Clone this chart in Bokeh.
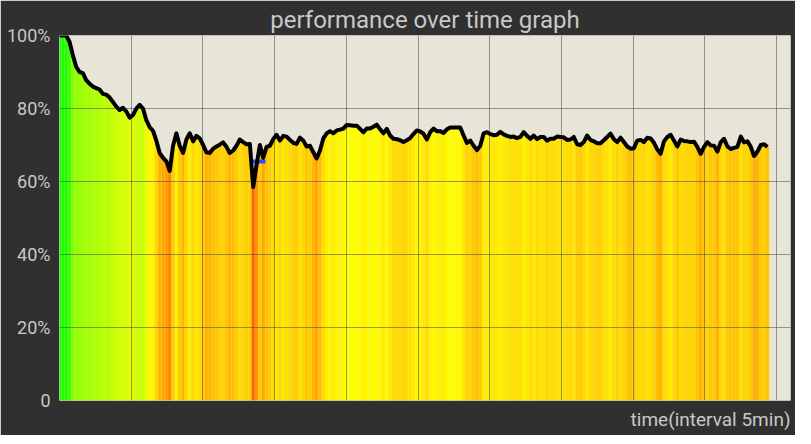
import colorsys
from bokeh.plotting import figure
from bokeh.models import ColumnDataSource, FixedTicker, SingleIntervalTicker, Title, LinearColorMapper
from bokeh.transform import transform
from bokeh.embed import file_html
from bokeh.resources import INLINE

# performance (%) per 5-minute interval
perf = [
    100.0, 100.0, 100.0, 98.3, 94.6, 91.4, 90.0, 89.7, 87.8, 86.8,
    86.0, 85.6, 85.2, 84.0, 83.8, 83.0, 81.8, 80.5, 79.6, 80.2,
    79.2, 77.5, 78.2, 80.0, 81.0, 80.0, 76.8, 74.9, 73.9, 71.2,
    67.8, 66.5, 65.5, 62.9, 69.8, 73.2, 69.8, 67.8, 71.5, 73.2,
    71.0, 72.5, 71.8, 70.0, 68.0, 67.8, 69.0, 69.6, 70.1, 70.7,
    69.5, 67.8, 68.5, 69.8, 71.5, 70.8, 70.2, 70.3, 58.5, 64.5,
    70.0, 66.5, 69.5, 69.8, 71.6, 72.8, 71.2, 72.5, 72.3, 71.4,
    70.6, 70.3, 72.0, 71.2, 69.6, 69.8, 68.0, 66.3, 68.5, 71.8,
    73.2, 73.8, 73.2, 74.0, 74.2, 74.5, 75.5, 75.4, 75.3, 75.3,
    74.4, 73.5, 74.5, 74.5, 75.0, 75.6, 74.3, 73.2, 74.4, 72.6,
    71.7, 71.6, 71.3, 70.8, 71.3, 71.9, 73.0, 74.0, 73.7, 73.1,
    71.5, 73.5, 74.5, 73.8, 73.8, 73.3, 74.3, 74.8, 74.8, 74.8,
    74.8, 72.6, 70.6, 71.2, 69.8, 68.6, 69.8, 73.2, 73.5, 73.0,
    72.7, 72.8, 73.6, 72.9, 72.5, 72.2, 72.3, 71.9, 72.2, 73.5,
    72.5, 71.7, 72.6, 71.6, 72.2, 72.2, 71.2, 71.7, 71.7, 72.3,
    72.2, 72.1, 71.4, 71.5, 72.2, 70.2, 70.0, 70.8, 72.6, 71.4,
    71.0, 70.5, 70.5, 71.3, 72.2, 73.1, 71.6, 70.8, 72.0, 70.8,
    69.6, 69.0, 69.1, 71.2, 71.4, 70.8, 72.0, 71.8, 70.6, 68.8,
    67.6, 71.0, 72.2, 72.8, 71.2, 69.6, 71.5, 71.1, 71.0, 70.8,
    70.9, 69.5, 67.6, 69.5, 70.8, 69.9, 69.8, 68.2, 70.8, 71.7,
    69.6, 68.9, 69.2, 69.5, 72.3, 70.7, 71.0, 69.5, 67.0, 68.2,
    70.0, 70.2, 69.5,
]

y_ticks = [0, 20, 40, 60, 80, 100]
y_tick_labels = ["0", "20%", "40%", "60%", "80%", "100%"]

# short blue marker segment (interval index, %)
marker_x = [57.5, 61.7]
marker_y = [65.5, 65.5]

title_text = "performance over time graph"
x_label = "time(interval 5min)"

n = len(perf)
idx = list(range(n))
span = n - 1
x_end = span * 731.0 / 708.0
grid_step = span * 71.7 / 708.0

# colour scale: red/orange (low) -> yellow -> green (100%)
hue_anchors = [(56, 20), (58, 23), (60, 27), (64, 34), (67, 41), (70, 48),
               (72, 53), (74, 58), (75.5, 60), (77, 65), (80, 71), (86, 80),
               (90, 84), (95, 90), (100, 112)]

def hue_at(v):
    for (v0, h0), (v1, h1) in zip(hue_anchors[:-1], hue_anchors[1:]):
        if v <= v1:
            t = (v - v0) / (v1 - v0)
            return h0 + t * (h1 - h0)
    return hue_anchors[-1][1]

palette = []
for k in range(256):
    v = 56 + 44 * k / 255
    r, g, b = colorsys.hsv_to_rgb(hue_at(v) / 360.0, 1.0, 1.0)
    palette.append("#%02x%02x%02x" % (int(r * 255), int(g * 255), int(b * 255)))
mapper = LinearColorMapper(palette=palette, low=56, high=100)

src = ColumnDataSource(data=dict(x=idx, perf=perf))

p = figure(frame_width=731, frame_height=365,
           x_range=(0, x_end), y_range=(0, 100),
           output_backend="svg", toolbar_location=None,
           background_fill_color="#e7e5d8", border_fill_color="#303030",
           min_border_left=59, min_border_right=5,
           min_border_top=35, min_border_bottom=28,
           outline_line_color=None)

p.title.text = title_text
p.title.align = "center"
p.title.text_font = "Roboto"
p.title.text_font_size = "24px"
p.title.text_font_style = "normal"
p.title.text_color = "#c8c8c8"
p.title.standoff = 3

bars = p.vbar(x="x", top="perf", bottom=0, width=1.0, source=src,
              fill_color=transform("perf", mapper), line_color=None)
bars.level = "image"

p.line(marker_x, marker_y, line_color="#2a4dff", line_width=4)
p.line("x", "perf", source=src, line_color="#000000", line_width=4,
       line_join="round")

p.xaxis.visible = False
p.xgrid.ticker = SingleIntervalTicker(interval=grid_step)
for g in (p.xgrid, p.ygrid):
    g.grid_line_color = "#4a4a4a"
    g.grid_line_alpha = 0.55
    g.grid_line_width = 1
    g.level = "underlay"
p.ygrid.ticker = FixedTicker(ticks=y_ticks)

ya = p.yaxis[0]
ya.ticker = FixedTicker(ticks=y_ticks)
ya.major_label_overrides = {t: l for t, l in zip(y_ticks, y_tick_labels)}
ya.axis_line_color = None
ya.major_tick_line_color = None
ya.minor_tick_line_color = None
ya.major_label_standoff = 3
ya.major_label_text_font = "Roboto"
ya.major_label_text_font_size = "18px"
ya.major_label_text_color = "#c8c8c8"

p.add_layout(Title(text=x_label, align="right", text_font="Roboto",
                   text_font_size="19px", text_font_style="normal",
                   text_color="#c8c8c8"), "below")

html = file_html(p, INLINE)
html = html.replace("<body>", '<body style="background:#303030;">', 1)
open("out.html", "w").write(html)
